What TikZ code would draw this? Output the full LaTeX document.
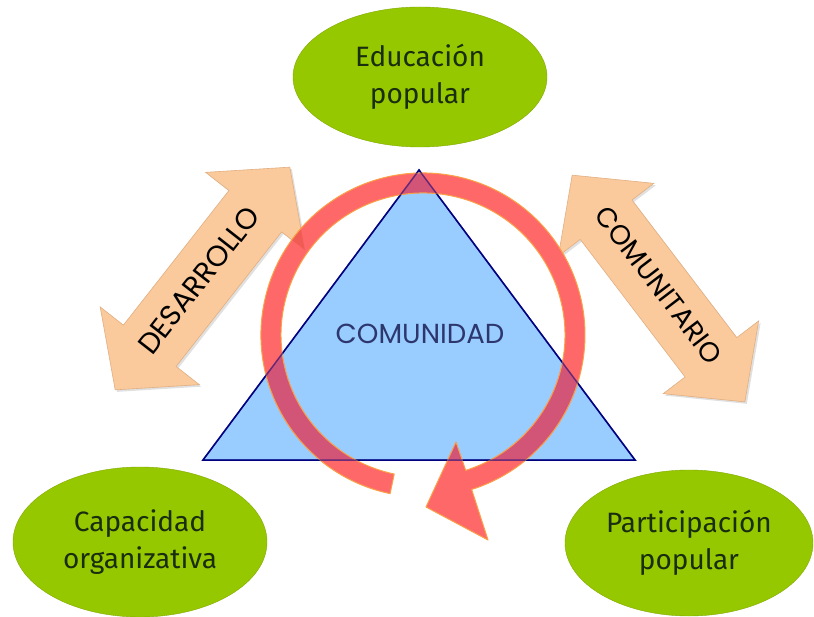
\documentclass[tikz,border=0pt]{standalone}
\usepackage{fontspec}
\setmainfont{Poppins}
\newfontfamily\handfont{Fira Sans}
\usetikzlibrary{shapes.geometric}
\definecolor{egreen}{RGB}{150,200,0}
\definecolor{etext}{RGB}{25,45,15}
\definecolor{peach}{RGB}{250,202,156}
\definecolor{peachedge}{RGB}{225,175,130}
\definecolor{triblue}{RGB}{153,204,255}
\definecolor{navy}{RGB}{0,0,128}
\definecolor{comtext}{RGB}{45,55,110}
\definecolor{ringred}{RGB}{255,104,104}
\definecolor{ringedge}{RGB}{250,160,70}
\definecolor{ringblue}{RGB}{210,84,118}
\definecolor{ringpeach}{RGB}{240,92,84}
\tikzset{
  bubble/.style={ellipse, fill=egreen, draw=egreen!85!black, line width=0.4pt,
    text=etext, align=center, font=\handfont\fontsize{28}{37}\selectfont, inner sep=0pt},
  arrowbody/.style={fill=peach, draw=peachedge, line width=0.6pt},
  arrowshadow/.style={fill=black, opacity=0.12},
  arrowtext/.style={text=black},
}
\def\ringpath{(390.1,493.6) arc[start angle=101.7,end angle=432.5,radius=162pt]
  -- (488,540) -- (426,507) -- (456,442) -- (465.7,470.4)
  arc[start angle=432.5,end angle=101.7,radius=142pt] -- cycle}
\def\leftarrowpath{(-141.5,0) -- (-85.5,-63) -- (-85.5,-33.5) -- (85.5,-33.5) -- (85.5,-63)
  -- (141.5,0) -- (85.5,63) -- (85.5,33.5) -- (-85.5,33.5) -- (-85.5,63) -- cycle}
\def\rightarrowpath{(-142.5,0) -- (-86.5,-60) -- (-86.5,-32.5) -- (86.5,-32.5) -- (86.5,-60)
  -- (142.5,0) -- (86.5,60) -- (86.5,32.5) -- (-86.5,32.5) -- (-86.5,60) -- cycle}
\def\tripath{(419,170) -- (635,460) -- (203,460) -- cycle}
\begin{document}
\begin{tikzpicture}[x=1pt,y=1pt,yscale=-1]
\useasboundingbox (0,0) rectangle (814,617);
\fill[white] (0,0) rectangle (814,617);

% ellipses
\node[bubble, minimum width=254pt, minimum height=140pt] (edu) at (420,77) {Educación\\popular};
\node[bubble, minimum width=254pt, minimum height=150pt] (cap) at (140,542) {Capacidad\\organizativa};
\node[bubble, minimum width=248pt, minimum height=146pt] (par) at (689,543) {Participación\\popular};

% double arrows
\begin{scope}[shift={(204.5,280.5)}, rotate=-51.9]
  \fill[arrowshadow] \leftarrowpath;
\end{scope}
\begin{scope}[shift={(202.5,278.5)}, rotate=-51.9]
  \path[arrowbody] \leftarrowpath;
\end{scope}
\begin{scope}[shift={(660.5,290.5)}, rotate=52.7]
  \fill[arrowshadow] \rightarrowpath;
\end{scope}
\begin{scope}[shift={(658.5,288.5)}, rotate=52.7]
  \path[arrowbody] \rightarrowpath;
\end{scope}

% triangle
\path[fill=triblue, draw=navy, line width=1.5pt, line join=miter] \tripath;

% circular arrow
\fill[ringred] \ringpath;
\begin{scope}
  \clip \ringpath;
  \fill[ringblue] \tripath;
  \begin{scope}[shift={(202.5,278.5)}, rotate=-51.9]
    \fill[ringpeach] \leftarrowpath;
  \end{scope}
\end{scope}
\draw[ringedge, line width=1pt, line join=round] \ringpath;
\draw[navy, line width=1.5pt, opacity=0.55] \tripath;

% texts
\node[font=\fontsize{27.5}{30}\selectfont, text=comtext] (com) at (420,334) {COMUNIDAD};
\node[arrowtext, font=\fontsize{29}{30}\selectfont, rotate=51.9] (des) at (199,280) {DESARROLLO};
\node[arrowtext, font=\fontsize{27.5}{30}\selectfont, rotate=-52.7] (cmt) at (659,285) {COMUNITARIO};
\end{tikzpicture}
\end{document}
